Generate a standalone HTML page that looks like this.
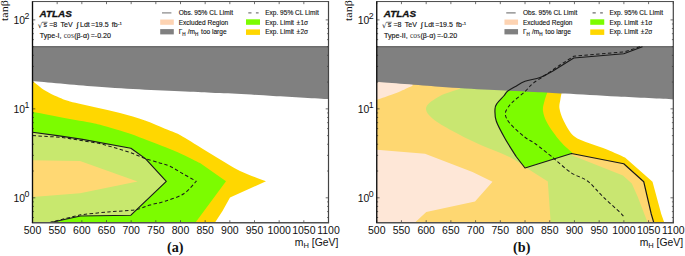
<!DOCTYPE html>
<html><head><meta charset="utf-8"><title>ATLAS limits</title>
<style>html,body{margin:0;padding:0;background:#fff}svg{display:block}</style></head>
<body>
<svg width="685" height="256" viewBox="0 0 685 256"><rect width="685" height="256" fill="#fff"/><path d="M32.50 222.50 L32.50 81.00 C34.58 82.58 40.83 87.87 45.00 90.50 C49.17 93.13 53.33 94.97 57.50 96.80 C61.67 98.63 63.75 99.76 70.00 101.50 C76.25 103.24 86.67 105.33 95.00 107.25 C103.33 109.17 111.67 110.79 120.00 113.00 C128.33 115.21 137.50 117.88 145.00 120.50 C152.50 123.12 159.17 126.33 165.00 128.75 C170.83 131.17 173.75 131.67 180.00 135.00 C186.25 138.33 195.67 144.58 202.50 148.75 C209.33 152.92 214.75 156.29 221.00 160.00 C227.25 163.71 232.50 167.46 240.00 171.00 C247.50 174.54 261.67 179.54 266.00 181.25 L230.00 197.50 L222.50 211.00 L215.00 222.50 Z" fill="#FFD700"/><path d="M32.50 222.50 L32.50 111.75 C36.97 112.61 49.72 115.11 59.30 116.90 C68.88 118.69 82.65 121.03 90.00 122.50 C97.35 123.97 98.40 124.35 103.40 125.70 C108.40 127.05 113.90 128.65 120.00 130.60 C126.10 132.55 132.50 134.67 140.00 137.40 C147.50 140.13 157.92 144.17 165.00 147.00 C172.08 149.83 176.67 151.73 182.50 154.40 C188.33 157.07 197.08 161.57 200.00 163.00 L226.00 181.25 L195.50 222.50 Z" fill="#7CFC00"/><polygon points="32.50,132.20 57.50,135.60 82.50,139.40 130.90,148.30 145.40,158.60 166.30,181.30 130.90,215.20 80.50,216.00 50.50,222.50 32.50,222.50" fill="#C8E86E"/><polygon points="32.50,160.30 80.00,161.10 137.50,181.60 80.00,193.30 32.50,197.10" fill="#FFD873"/><path d="M32.50 46.75 L328.50 46.75 L328.50 99.10 C319.25 98.57 291.08 96.90 273.00 95.90 C254.92 94.90 233.83 93.80 220.00 93.10 C206.17 92.40 202.50 92.27 190.00 91.70 C177.50 91.13 160.83 90.57 145.00 89.70 C129.17 88.83 113.75 87.97 95.00 86.50 C76.25 85.03 42.92 81.83 32.50 80.90 Z" fill="#808080"/><line x1="32.5" y1="46.7" x2="328.5" y2="46.7" stroke="#444" stroke-width="0.9"/><polyline points="32.50,132.20 57.50,135.60 82.50,139.40 130.90,148.30 145.40,158.60 166.30,181.30 130.90,215.20 80.50,216.00 50.50,222.50" fill="none" stroke="#1a1a1a" stroke-width="1.15" stroke-linejoin="round"/><path d="M32.50 135.60 L56.00 137.00 L64.00 137.70 L98.60 143.30 L106.00 145.20 L117.60 148.60 L130.00 152.30 L145.40 158.80 C147.67 159.45 154.90 161.47 159.00 162.70 C163.10 163.93 166.08 164.40 170.00 166.20 C173.92 168.00 178.12 170.99 182.50 173.50 C186.88 176.01 193.96 179.96 196.25 181.25 C194.17 183.33 188.96 190.42 183.75 193.75 C178.54 197.08 170.62 199.38 165.00 201.25 C159.38 203.12 155.00 203.57 150.00 205.00 C145.00 206.43 142.00 208.65 135.00 209.80 C128.00 210.95 117.08 211.07 108.00 211.90 C98.92 212.73 85.08 214.32 80.50 214.80 L50.50 222.30" fill="none" stroke="#1a1a1a" stroke-width="1.03" stroke-dasharray="3.5,2.4"/><g stroke="#333" stroke-width="0.7" fill="none"><line x1="32.50" y1="222.80" x2="32.50" y2="220.20"/><line x1="32.50" y1="1.55" x2="32.50" y2="4.15"/><line x1="57.17" y1="222.80" x2="57.17" y2="220.20"/><line x1="57.17" y1="1.55" x2="57.17" y2="4.15"/><line x1="81.83" y1="222.80" x2="81.83" y2="220.20"/><line x1="81.83" y1="1.55" x2="81.83" y2="4.15"/><line x1="106.50" y1="222.80" x2="106.50" y2="220.20"/><line x1="106.50" y1="1.55" x2="106.50" y2="4.15"/><line x1="131.17" y1="222.80" x2="131.17" y2="220.20"/><line x1="131.17" y1="1.55" x2="131.17" y2="4.15"/><line x1="155.83" y1="222.80" x2="155.83" y2="220.20"/><line x1="155.83" y1="1.55" x2="155.83" y2="4.15"/><line x1="180.50" y1="222.80" x2="180.50" y2="220.20"/><line x1="180.50" y1="1.55" x2="180.50" y2="4.15"/><line x1="205.17" y1="222.80" x2="205.17" y2="220.20"/><line x1="205.17" y1="1.55" x2="205.17" y2="4.15"/><line x1="229.83" y1="222.80" x2="229.83" y2="220.20"/><line x1="229.83" y1="1.55" x2="229.83" y2="4.15"/><line x1="254.50" y1="222.80" x2="254.50" y2="220.20"/><line x1="254.50" y1="1.55" x2="254.50" y2="4.15"/><line x1="279.17" y1="222.80" x2="279.17" y2="220.20"/><line x1="279.17" y1="1.55" x2="279.17" y2="4.15"/><line x1="303.83" y1="222.80" x2="303.83" y2="220.20"/><line x1="303.83" y1="1.55" x2="303.83" y2="4.15"/><line x1="328.50" y1="222.80" x2="328.50" y2="220.20"/><line x1="328.50" y1="1.55" x2="328.50" y2="4.15"/><line x1="32.50" y1="217.53" x2="33.90" y2="217.53"/><line x1="328.50" y1="217.53" x2="327.10" y2="217.53"/><line x1="32.50" y1="211.58" x2="33.90" y2="211.58"/><line x1="328.50" y1="211.58" x2="327.10" y2="211.58"/><line x1="32.50" y1="206.42" x2="33.90" y2="206.42"/><line x1="328.50" y1="206.42" x2="327.10" y2="206.42"/><line x1="32.50" y1="201.87" x2="33.90" y2="201.87"/><line x1="328.50" y1="201.87" x2="327.10" y2="201.87"/><line x1="32.50" y1="197.80" x2="35.30" y2="197.80"/><line x1="328.50" y1="197.80" x2="325.70" y2="197.80"/><line x1="32.50" y1="171.02" x2="33.90" y2="171.02"/><line x1="328.50" y1="171.02" x2="327.10" y2="171.02"/><line x1="32.50" y1="155.36" x2="33.90" y2="155.36"/><line x1="328.50" y1="155.36" x2="327.10" y2="155.36"/><line x1="32.50" y1="144.25" x2="33.90" y2="144.25"/><line x1="328.50" y1="144.25" x2="327.10" y2="144.25"/><line x1="32.50" y1="135.63" x2="33.90" y2="135.63"/><line x1="328.50" y1="135.63" x2="327.10" y2="135.63"/><line x1="32.50" y1="128.58" x2="33.90" y2="128.58"/><line x1="328.50" y1="128.58" x2="327.10" y2="128.58"/><line x1="32.50" y1="122.63" x2="33.90" y2="122.63"/><line x1="328.50" y1="122.63" x2="327.10" y2="122.63"/><line x1="32.50" y1="117.47" x2="33.90" y2="117.47"/><line x1="328.50" y1="117.47" x2="327.10" y2="117.47"/><line x1="32.50" y1="112.92" x2="33.90" y2="112.92"/><line x1="328.50" y1="112.92" x2="327.10" y2="112.92"/><line x1="32.50" y1="108.85" x2="35.30" y2="108.85"/><line x1="328.50" y1="108.85" x2="325.70" y2="108.85"/><line x1="32.50" y1="82.07" x2="33.90" y2="82.07"/><line x1="328.50" y1="82.07" x2="327.10" y2="82.07"/><line x1="32.50" y1="66.41" x2="33.90" y2="66.41"/><line x1="328.50" y1="66.41" x2="327.10" y2="66.41"/><line x1="32.50" y1="55.30" x2="33.90" y2="55.30"/><line x1="328.50" y1="55.30" x2="327.10" y2="55.30"/><line x1="32.50" y1="46.68" x2="33.90" y2="46.68"/><line x1="328.50" y1="46.68" x2="327.10" y2="46.68"/><line x1="32.50" y1="39.63" x2="33.90" y2="39.63"/><line x1="328.50" y1="39.63" x2="327.10" y2="39.63"/><line x1="32.50" y1="33.68" x2="33.90" y2="33.68"/><line x1="328.50" y1="33.68" x2="327.10" y2="33.68"/><line x1="32.50" y1="28.52" x2="33.90" y2="28.52"/><line x1="328.50" y1="28.52" x2="327.10" y2="28.52"/><line x1="32.50" y1="23.97" x2="33.90" y2="23.97"/><line x1="328.50" y1="23.97" x2="327.10" y2="23.97"/><line x1="32.50" y1="19.90" x2="35.30" y2="19.90"/><line x1="328.50" y1="19.90" x2="325.70" y2="19.90"/></g><line x1="31.90" y1="1.55" x2="329.10" y2="1.55" stroke="#4a4a4a" stroke-width="1.0"/><line x1="31.90" y1="222.80" x2="329.10" y2="222.80" stroke="#505050" stroke-width="1.4"/><line x1="32.50" y1="1.55" x2="32.50" y2="222.80" stroke="#0c0c0c" stroke-width="1.35"/><line x1="328.50" y1="1.55" x2="328.50" y2="222.80" stroke="#444" stroke-width="1.2"/><g font-family="Liberation Sans, Arial, sans-serif" font-size="10.5" fill="#111" text-anchor="middle"><text x="32.50" y="233.5">500</text><text x="57.17" y="233.5">550</text><text x="81.83" y="233.5">600</text><text x="106.50" y="233.5">650</text><text x="131.17" y="233.5">700</text><text x="155.83" y="233.5">750</text><text x="180.50" y="233.5">800</text><text x="205.17" y="233.5">850</text><text x="229.83" y="233.5">900</text><text x="254.50" y="233.5">950</text><text x="279.17" y="233.5">1000</text><text x="303.83" y="233.5">1050</text><text x="328.50" y="233.5">1100</text></g><g font-family="Liberation Sans, Arial, sans-serif" font-size="10.4" fill="#111" text-anchor="end"><text x="29.40" y="24.05">10<tspan dy="-5.0" dx="-0.5" font-size="8.8">2</tspan></text><text x="29.40" y="113.00">10<tspan dy="-5.0" dx="-0.5" font-size="8.8">1</tspan></text><text x="29.40" y="201.95">10<tspan dy="-5.0" dx="-0.5" font-size="8.8">0</tspan></text></g><text transform="translate(8.10,21.0) rotate(-90) scale(1.2,1)" font-family="Liberation Serif, Times New Roman, serif" font-size="10" fill="#111">tanβ</text><text x="338.40" y="246.4" text-anchor="end" font-family="Liberation Sans, Arial, sans-serif" font-size="10.4" fill="#111">m<tspan dy="1.9" font-size="7.5">H</tspan><tspan dy="-1.9"> [GeV]</tspan></text><text x="175.20" y="252.4" text-anchor="middle" font-family="Liberation Serif, Times New Roman, serif" font-weight="bold" font-size="14.2" fill="#111">(a)</text><text x="39.50" y="17" font-family="Liberation Sans, Arial, sans-serif" font-size="9.7" textLength="32.3" lengthAdjust="spacingAndGlyphs" font-weight="bold" font-style="italic" fill="#111" stroke="#111" stroke-width="0.3">ATLAS</text><text x="37.70" y="27.6" font-family="DejaVu Sans, Liberation Sans, sans-serif" font-size="7.4" fill="#222">√</text><line x1="42.10" y1="22.25" x2="47.50" y2="22.25" stroke="#222" stroke-width="0.6"/><g font-family="Liberation Sans, Arial, sans-serif" font-size="7" fill="#111" stroke="#111" stroke-width="0.13"><text x="43.60" y="27.4">s</text><text x="49.20" y="27.4">=8</text><text x="60.60" y="27.4">TeV</text><text x="80.00" y="27.4">Ldt</text><text x="90.90" y="27.4">=19.5</text><text x="111.70" y="27.4">fb</text><text x="76.70" y="27.4" font-size="6.5" font-family="Liberation Serif, serif" stroke-width="0.3">∫</text><text x="118.10" y="24.6" font-size="4.4">-1</text></g><text x="39.80" y="37.9" font-family="Liberation Sans, Arial, sans-serif" font-size="7.1" fill="#111" stroke="#111" stroke-width="0.13">Type-I, <tspan font-family="Liberation Serif, Times New Roman, serif" font-size="7.6" fill="#333" stroke="none" dx="0.3">cos</tspan><tspan dx="0.3">(β-α)</tspan><tspan dx="1.2">=-0.20</tspan></text><line x1="162.00" y1="12.9" x2="171.40" y2="12.9" stroke="#7a7a7a" stroke-width="1.1"/><rect x="160.20" y="19.5" width="13.6" height="5.3" fill="#FDD3B2"/><rect x="160.20" y="29.1" width="13.6" height="5.3" fill="#808080"/><text x="178.70" y="15.3" font-family="Liberation Sans, Arial, sans-serif" font-size="6.55" fill="#111" stroke="#111" stroke-width="0.12">Obs. 95% CL Limit</text><text x="178.70" y="24.7" font-family="Liberation Sans, Arial, sans-serif" font-size="6.55" fill="#111" stroke="#111" stroke-width="0.12">Excluded Region</text><text x="178.70" y="34.2" font-family="Liberation Sans, Arial, sans-serif" font-size="6.55" fill="#111" stroke="#111" stroke-width="0.12">Γ<tspan dy="1.4" font-size="4.6">H</tspan><tspan dy="-1.4" dx="0.3"> /m</tspan><tspan dy="1.4" font-size="4.6">H</tspan><tspan dy="-1.4" dx="0.9"> too large</tspan></text><line x1="248.30" y1="12.9" x2="258.60" y2="12.9" stroke="#7a7a7a" stroke-width="1.1" stroke-dasharray="3.2,4.4"/><rect x="246.00" y="19.3" width="14" height="5.5" fill="#7CFC00"/><rect x="246.00" y="29.4" width="14" height="5.5" fill="#FFD700"/><text x="265.20" y="15.3" font-family="Liberation Sans, Arial, sans-serif" font-size="6.55" fill="#111" stroke="#111" stroke-width="0.12">Exp. 95% CL Limit</text><text x="265.20" y="24.7" font-family="Liberation Sans, Arial, sans-serif" font-size="6.55" fill="#111" stroke="#111" stroke-width="0.12">Exp. Limit <tspan dx="0.7">±</tspan><tspan dx="0.4">1σ</tspan></text><text x="265.20" y="34.3" font-family="Liberation Sans, Arial, sans-serif" font-size="6.55" fill="#111" stroke="#111" stroke-width="0.12">Exp. Limit <tspan dx="0.7">±</tspan><tspan dx="0.4">2σ</tspan></text><path d="M376.75 149.75 L376.75 100.00 C378.96 99.22 385.96 96.80 390.00 95.30 C394.04 93.80 397.25 92.59 401.00 91.00 C404.75 89.41 410.58 86.62 412.50 85.75 L412.50 60.00 L561.75 60.00 L561.75 92.00 C561.51 93.33 560.67 97.25 560.30 100.00 C559.92 102.75 558.92 105.00 559.50 108.50 C560.08 112.00 561.38 116.42 563.75 121.00 C566.12 125.58 569.38 132.25 573.75 136.00 C578.12 139.75 584.38 141.21 590.00 143.50 C595.62 145.79 601.67 147.42 607.50 149.75 C613.33 152.08 622.08 156.21 625.00 157.50 L652.50 181.75 L661.25 214.00 L664.25 222.50 L415.00 222.50 L426.25 212.00 L475.00 201.50 L492.50 181.75 L472.50 172.00 L425.00 153.75 Z" fill="#FFD700"/><path d="M550.70 222.50 L547.80 181.60 L525.00 167.00 C522.50 165.38 517.92 161.17 510.00 157.25 C502.08 153.33 487.08 147.88 477.50 143.50 C467.92 139.12 460.00 135.17 452.50 131.00 C445.00 126.83 436.88 122.46 432.50 118.50 C428.12 114.54 425.00 111.00 426.25 107.25 C427.50 103.50 434.38 99.08 440.00 96.00 C445.62 92.92 456.67 89.96 460.00 88.75 L460.00 60.00 L547.50 60.00 L547.50 92.00 C547.00 93.50 545.25 97.83 544.50 101.00 C543.75 104.17 542.50 107.25 543.00 111.00 C543.50 114.75 544.67 118.50 547.50 123.50 C550.33 128.50 555.83 136.08 560.00 141.00 C564.17 145.92 570.42 151.00 572.50 153.00 L571.25 155.00 L623.00 175.40 L631.80 183.50 L637.60 196.50 L647.60 222.50 Z" fill="#7CFC00"/><path d="M642.50 46.75 L623.75 53.75 L573.75 58.00 L552.50 71.25 C550.42 72.29 544.58 75.83 540.00 77.50 C535.42 79.17 529.17 79.71 525.00 81.25 C520.83 82.79 517.92 85.08 515.00 86.75 C512.08 88.42 509.38 89.71 507.50 91.25 C505.62 92.79 505.50 93.96 503.75 96.00 C502.00 98.04 498.46 101.33 497.00 103.50 C495.54 105.67 495.12 106.08 495.00 109.00 C494.88 111.92 494.58 116.08 496.25 121.00 C497.92 125.92 501.62 132.50 505.00 138.50 C508.38 144.50 514.58 153.92 516.50 157.00 L525.00 168.00 L571.50 153.50 L623.75 163.75 L643.75 181.75 L651.25 214.00 L653.75 222.50 L376.75 222.50 L376.75 46.75 Z" fill="#FED7BD" fill-opacity="0.6"/><path d="M376.75 46.75 L673.30 46.75 L673.30 99.40 C664.02 98.93 635.65 97.57 617.60 96.60 C599.55 95.63 578.93 94.38 565.00 93.60 C551.07 92.82 546.67 92.53 534.00 91.90 C521.33 91.27 504.83 90.67 489.00 89.80 C473.17 88.93 457.71 88.03 439.00 86.70 C420.29 85.37 387.12 82.62 376.75 81.80 Z" fill="#808080"/><line x1="376.75" y1="46.7" x2="673.3" y2="46.7" stroke="#444" stroke-width="0.9"/><path d="M642.50 46.75 L623.75 53.75 L573.75 58.00 L552.50 71.25 C550.42 72.29 544.58 75.83 540.00 77.50 C535.42 79.17 529.17 79.71 525.00 81.25 C520.83 82.79 517.92 85.08 515.00 86.75 C512.08 88.42 509.38 89.71 507.50 91.25 C505.62 92.79 505.50 93.96 503.75 96.00 C502.00 98.04 498.46 101.33 497.00 103.50 C495.54 105.67 495.12 106.08 495.00 109.00 C494.88 111.92 494.58 116.08 496.25 121.00 C497.92 125.92 501.62 132.50 505.00 138.50 C508.38 144.50 514.58 153.92 516.50 157.00 L525.00 168.00 L571.50 153.50 L623.75 163.75 L643.75 181.75 L651.25 214.00 L653.75 222.50" fill="none" stroke="#1a1a1a" stroke-width="1.15" stroke-linejoin="round"/><path d="M640.00 46.75 L625.00 51.75 L573.75 56.25 L560.00 65.00 L542.50 77.00 C540.83 78.12 535.42 81.33 532.50 83.75 C529.58 86.17 527.92 88.79 525.00 91.50 C522.08 94.21 517.50 97.79 515.00 100.00 C512.50 102.21 511.62 102.50 510.00 104.75 C508.38 107.00 505.30 110.38 505.30 113.50 C505.30 116.62 506.72 119.54 510.00 123.50 C513.28 127.46 520.83 133.92 525.00 137.25 C529.17 140.58 530.42 140.17 535.00 143.50 C539.58 146.83 549.58 154.96 552.50 157.25 C555.62 159.84 565.42 168.84 571.25 172.80 C577.08 176.76 582.29 177.09 587.50 181.00 C592.71 184.91 597.08 191.00 602.50 196.25 C607.92 201.50 616.38 209.01 620.00 212.50 C623.62 215.99 623.50 216.42 624.20 217.20" fill="none" stroke="#1a1a1a" stroke-width="1.03" stroke-dasharray="3.5,2.4"/><g stroke="#333" stroke-width="0.7" fill="none"><line x1="376.75" y1="222.80" x2="376.75" y2="220.20"/><line x1="376.75" y1="1.55" x2="376.75" y2="4.15"/><line x1="401.46" y1="222.80" x2="401.46" y2="220.20"/><line x1="401.46" y1="1.55" x2="401.46" y2="4.15"/><line x1="426.18" y1="222.80" x2="426.18" y2="220.20"/><line x1="426.18" y1="1.55" x2="426.18" y2="4.15"/><line x1="450.89" y1="222.80" x2="450.89" y2="220.20"/><line x1="450.89" y1="1.55" x2="450.89" y2="4.15"/><line x1="475.60" y1="222.80" x2="475.60" y2="220.20"/><line x1="475.60" y1="1.55" x2="475.60" y2="4.15"/><line x1="500.31" y1="222.80" x2="500.31" y2="220.20"/><line x1="500.31" y1="1.55" x2="500.31" y2="4.15"/><line x1="525.02" y1="222.80" x2="525.02" y2="220.20"/><line x1="525.02" y1="1.55" x2="525.02" y2="4.15"/><line x1="549.74" y1="222.80" x2="549.74" y2="220.20"/><line x1="549.74" y1="1.55" x2="549.74" y2="4.15"/><line x1="574.45" y1="222.80" x2="574.45" y2="220.20"/><line x1="574.45" y1="1.55" x2="574.45" y2="4.15"/><line x1="599.16" y1="222.80" x2="599.16" y2="220.20"/><line x1="599.16" y1="1.55" x2="599.16" y2="4.15"/><line x1="623.88" y1="222.80" x2="623.88" y2="220.20"/><line x1="623.88" y1="1.55" x2="623.88" y2="4.15"/><line x1="648.59" y1="222.80" x2="648.59" y2="220.20"/><line x1="648.59" y1="1.55" x2="648.59" y2="4.15"/><line x1="673.30" y1="222.80" x2="673.30" y2="220.20"/><line x1="673.30" y1="1.55" x2="673.30" y2="4.15"/><line x1="376.75" y1="217.53" x2="378.15" y2="217.53"/><line x1="673.30" y1="217.53" x2="671.90" y2="217.53"/><line x1="376.75" y1="211.58" x2="378.15" y2="211.58"/><line x1="673.30" y1="211.58" x2="671.90" y2="211.58"/><line x1="376.75" y1="206.42" x2="378.15" y2="206.42"/><line x1="673.30" y1="206.42" x2="671.90" y2="206.42"/><line x1="376.75" y1="201.87" x2="378.15" y2="201.87"/><line x1="673.30" y1="201.87" x2="671.90" y2="201.87"/><line x1="376.75" y1="197.80" x2="379.55" y2="197.80"/><line x1="673.30" y1="197.80" x2="670.50" y2="197.80"/><line x1="376.75" y1="171.02" x2="378.15" y2="171.02"/><line x1="673.30" y1="171.02" x2="671.90" y2="171.02"/><line x1="376.75" y1="155.36" x2="378.15" y2="155.36"/><line x1="673.30" y1="155.36" x2="671.90" y2="155.36"/><line x1="376.75" y1="144.25" x2="378.15" y2="144.25"/><line x1="673.30" y1="144.25" x2="671.90" y2="144.25"/><line x1="376.75" y1="135.63" x2="378.15" y2="135.63"/><line x1="673.30" y1="135.63" x2="671.90" y2="135.63"/><line x1="376.75" y1="128.58" x2="378.15" y2="128.58"/><line x1="673.30" y1="128.58" x2="671.90" y2="128.58"/><line x1="376.75" y1="122.63" x2="378.15" y2="122.63"/><line x1="673.30" y1="122.63" x2="671.90" y2="122.63"/><line x1="376.75" y1="117.47" x2="378.15" y2="117.47"/><line x1="673.30" y1="117.47" x2="671.90" y2="117.47"/><line x1="376.75" y1="112.92" x2="378.15" y2="112.92"/><line x1="673.30" y1="112.92" x2="671.90" y2="112.92"/><line x1="376.75" y1="108.85" x2="379.55" y2="108.85"/><line x1="673.30" y1="108.85" x2="670.50" y2="108.85"/><line x1="376.75" y1="82.07" x2="378.15" y2="82.07"/><line x1="673.30" y1="82.07" x2="671.90" y2="82.07"/><line x1="376.75" y1="66.41" x2="378.15" y2="66.41"/><line x1="673.30" y1="66.41" x2="671.90" y2="66.41"/><line x1="376.75" y1="55.30" x2="378.15" y2="55.30"/><line x1="673.30" y1="55.30" x2="671.90" y2="55.30"/><line x1="376.75" y1="46.68" x2="378.15" y2="46.68"/><line x1="673.30" y1="46.68" x2="671.90" y2="46.68"/><line x1="376.75" y1="39.63" x2="378.15" y2="39.63"/><line x1="673.30" y1="39.63" x2="671.90" y2="39.63"/><line x1="376.75" y1="33.68" x2="378.15" y2="33.68"/><line x1="673.30" y1="33.68" x2="671.90" y2="33.68"/><line x1="376.75" y1="28.52" x2="378.15" y2="28.52"/><line x1="673.30" y1="28.52" x2="671.90" y2="28.52"/><line x1="376.75" y1="23.97" x2="378.15" y2="23.97"/><line x1="673.30" y1="23.97" x2="671.90" y2="23.97"/><line x1="376.75" y1="19.90" x2="379.55" y2="19.90"/><line x1="673.30" y1="19.90" x2="670.50" y2="19.90"/></g><line x1="376.15" y1="1.55" x2="673.90" y2="1.55" stroke="#4a4a4a" stroke-width="1.0"/><line x1="376.15" y1="222.80" x2="673.90" y2="222.80" stroke="#505050" stroke-width="1.4"/><line x1="376.75" y1="1.55" x2="376.75" y2="222.80" stroke="#0c0c0c" stroke-width="1.35"/><line x1="673.30" y1="1.55" x2="673.30" y2="222.80" stroke="#444" stroke-width="1.2"/><g font-family="Liberation Sans, Arial, sans-serif" font-size="10.5" fill="#111" text-anchor="middle"><text x="376.75" y="233.5">500</text><text x="401.46" y="233.5">550</text><text x="426.18" y="233.5">600</text><text x="450.89" y="233.5">650</text><text x="475.60" y="233.5">700</text><text x="500.31" y="233.5">750</text><text x="525.02" y="233.5">800</text><text x="549.74" y="233.5">850</text><text x="574.45" y="233.5">900</text><text x="599.16" y="233.5">950</text><text x="623.88" y="233.5">1000</text><text x="648.59" y="233.5">1050</text><text x="673.30" y="233.5">1100</text></g><g font-family="Liberation Sans, Arial, sans-serif" font-size="10.4" fill="#111" text-anchor="end"><text x="373.65" y="24.05">10<tspan dy="-5.0" dx="-0.5" font-size="8.8">2</tspan></text><text x="373.65" y="113.00">10<tspan dy="-5.0" dx="-0.5" font-size="8.8">1</tspan></text><text x="373.65" y="201.95">10<tspan dy="-5.0" dx="-0.5" font-size="8.8">0</tspan></text></g><text transform="translate(352.35,21.0) rotate(-90) scale(1.2,1)" font-family="Liberation Serif, Times New Roman, serif" font-size="10" fill="#111">tanβ</text><text x="683.20" y="246.4" text-anchor="end" font-family="Liberation Sans, Arial, sans-serif" font-size="10.4" fill="#111">m<tspan dy="1.9" font-size="7.5">H</tspan><tspan dy="-1.9"> [GeV]</tspan></text><text x="521.73" y="252.4" text-anchor="middle" font-family="Liberation Serif, Times New Roman, serif" font-weight="bold" font-size="14.2" fill="#111">(b)</text><text x="383.75" y="17" font-family="Liberation Sans, Arial, sans-serif" font-size="9.7" textLength="32.3" lengthAdjust="spacingAndGlyphs" font-weight="bold" font-style="italic" fill="#111" stroke="#111" stroke-width="0.3">ATLAS</text><text x="381.95" y="27.6" font-family="DejaVu Sans, Liberation Sans, sans-serif" font-size="7.4" fill="#222">√</text><line x1="386.35" y1="22.25" x2="391.75" y2="22.25" stroke="#222" stroke-width="0.6"/><g font-family="Liberation Sans, Arial, sans-serif" font-size="7" fill="#111" stroke="#111" stroke-width="0.13"><text x="387.85" y="27.4">s</text><text x="393.45" y="27.4">=8</text><text x="404.85" y="27.4">TeV</text><text x="424.25" y="27.4">Ldt</text><text x="435.15" y="27.4">=19.5</text><text x="455.95" y="27.4">fb</text><text x="420.95" y="27.4" font-size="6.5" font-family="Liberation Serif, serif" stroke-width="0.3">∫</text><text x="462.35" y="24.6" font-size="4.4">-1</text></g><text x="384.05" y="37.9" font-family="Liberation Sans, Arial, sans-serif" font-size="7.1" fill="#111" stroke="#111" stroke-width="0.13">Type-II, <tspan font-family="Liberation Serif, Times New Roman, serif" font-size="7.6" fill="#333" stroke="none" dx="0.3">cos</tspan><tspan dx="0.3">(β-α)</tspan><tspan dx="1.2">=-0.20</tspan></text><line x1="506.25" y1="12.9" x2="515.65" y2="12.9" stroke="#6e6e6e" stroke-width="1.1"/><rect x="504.45" y="19.5" width="13.6" height="5.3" fill="#FDD3B2"/><rect x="504.45" y="29.1" width="13.6" height="5.3" fill="#808080"/><text x="522.95" y="15.3" font-family="Liberation Sans, Arial, sans-serif" font-size="6.55" fill="#111" stroke="#111" stroke-width="0.12">Obs. 95% CL Limit</text><text x="522.95" y="24.7" font-family="Liberation Sans, Arial, sans-serif" font-size="6.55" fill="#111" stroke="#111" stroke-width="0.12">Excluded Region</text><text x="522.95" y="34.2" font-family="Liberation Sans, Arial, sans-serif" font-size="6.55" fill="#111" stroke="#111" stroke-width="0.12">Γ<tspan dy="1.4" font-size="4.6">H</tspan><tspan dy="-1.4" dx="0.3"> /m</tspan><tspan dy="1.4" font-size="4.6">H</tspan><tspan dy="-1.4" dx="0.9"> too large</tspan></text><line x1="592.55" y1="12.9" x2="602.85" y2="12.9" stroke="#6e6e6e" stroke-width="1.1" stroke-dasharray="3.2,4.4"/><rect x="590.25" y="19.3" width="14" height="5.5" fill="#7CFC00"/><rect x="590.25" y="29.4" width="14" height="5.5" fill="#FFD700"/><text x="609.45" y="15.3" font-family="Liberation Sans, Arial, sans-serif" font-size="6.55" fill="#111" stroke="#111" stroke-width="0.12">Exp. 95% CL Limit</text><text x="609.45" y="24.7" font-family="Liberation Sans, Arial, sans-serif" font-size="6.55" fill="#111" stroke="#111" stroke-width="0.12">Exp. Limit <tspan dx="0.7">±</tspan><tspan dx="0.4">1σ</tspan></text><text x="609.45" y="34.3" font-family="Liberation Sans, Arial, sans-serif" font-size="6.55" fill="#111" stroke="#111" stroke-width="0.12">Exp. Limit <tspan dx="0.7">±</tspan><tspan dx="0.4">2σ</tspan></text></svg>
</body></html>
